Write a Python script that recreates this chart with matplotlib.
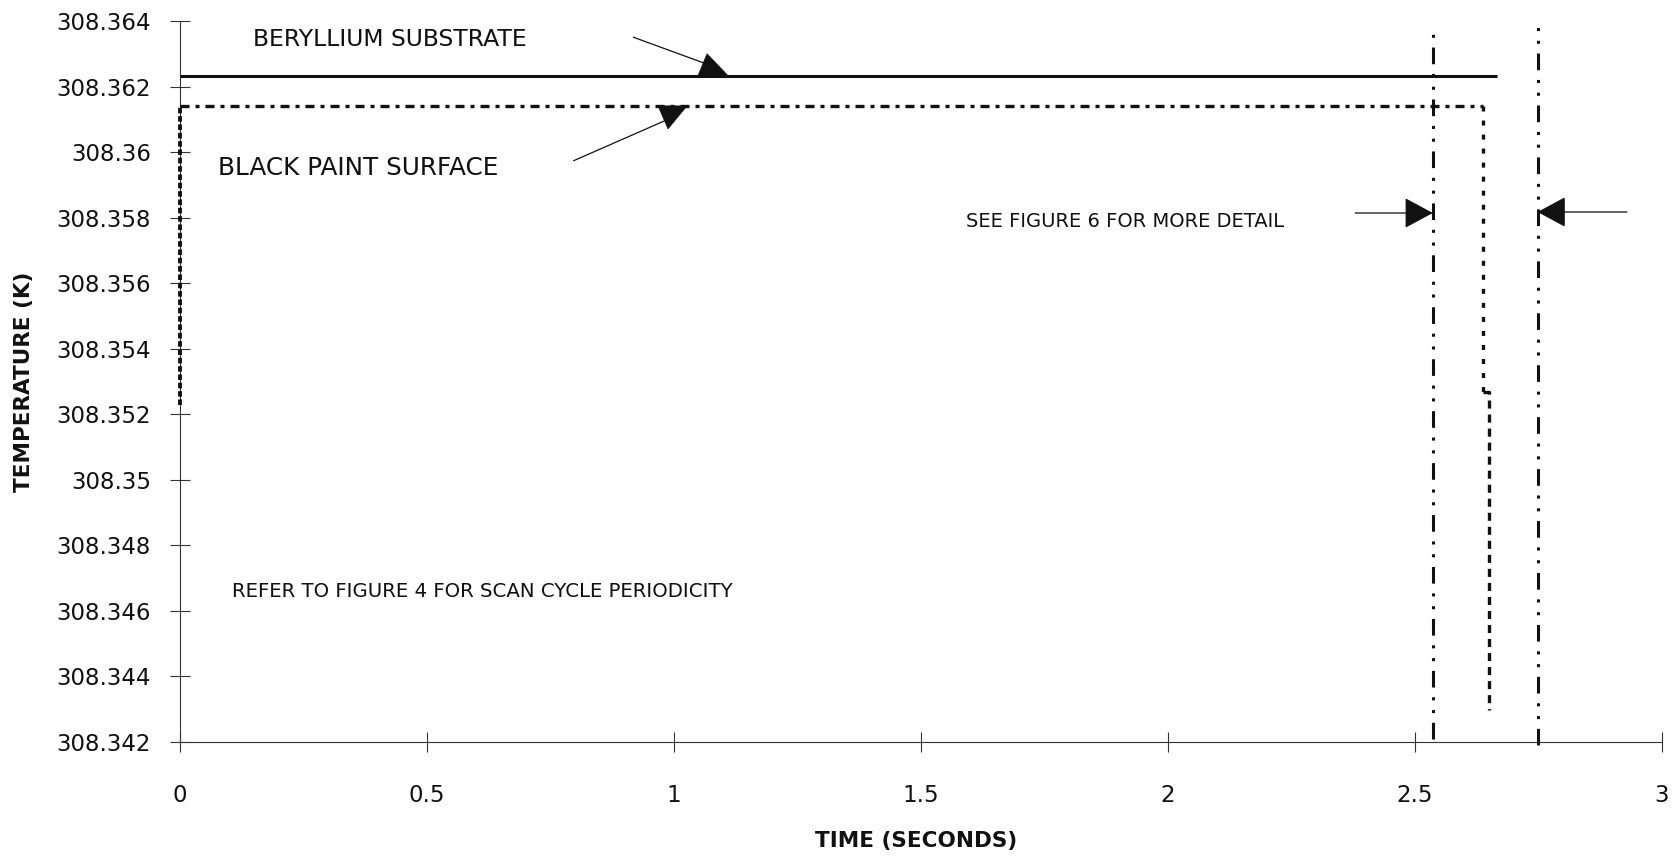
"""Surface vs substrate temperature over one scan, with detail-window markers."""

import matplotlib.pyplot as plt
from matplotlib.patches import Polygon
from matplotlib.ticker import FuncFormatter
from matplotlib.transforms import ScaledTranslation

plt.rcParams["font.family"] = ["DejaVu Sans"]
plt.rcParams["lines.scale_dashes"] = False

DPI = 100
INK = "#111111"
AXIS = "#333333"

# beryllium substrate: flat over the whole scan
be_time = [0.0, 2.666]
be_temp = [308.36234, 308.36234]

# black paint surface: step up at t=0, plateau, then drop at end of scan
paint_time = [0.0, 0.0, 2.638, 2.638, 2.650, 2.650]
paint_temp = [308.35229, 308.36142, 308.36142, 308.35268, 308.35268, 308.34297]

# edges of the window shown in figure 6
detail_time = [2.536, 2.748]
detail_top = [308.3639, 308.3641]
detail_bottom = [308.3421, 308.3419]

time_ticks = [0, 0.5, 1, 1.5, 2, 2.5, 3]
temp_ticks = [308.342, 308.344, 308.346, 308.348, 308.350, 308.352,
              308.354, 308.356, 308.358, 308.360, 308.362, 308.364]


def _pointer(ax, tail, end, anchor, verts_px):
    """Thin leader line plus a filled triangle placed in pixel offsets."""
    ax.plot([tail[0], end[0]], [tail[1], end[1]], color=INK, lw=0.9,
            solid_capstyle="butt", clip_on=False, zorder=4)
    trans = ax.figure.dpi_scale_trans + ScaledTranslation(anchor[0], anchor[1], ax.transData)
    tri = Polygon([(x / DPI, y / DPI) for x, y in verts_px], closed=True,
                  transform=trans, facecolor=INK, edgecolor=INK, lw=0.5,
                  clip_on=False, zorder=5)
    ax.add_patch(tri)


def _side_arrow(ax, tail, tip):
    ax.annotate("", xy=tip, xytext=tail,
                arrowprops=dict(arrowstyle="-|>,head_length=1.3,head_width=0.7",
                                mutation_scale=14, lw=0.9, color=INK,
                                shrinkA=0, shrinkB=0),
                annotation_clip=False, zorder=5)


fig = plt.figure(figsize=(16.79, 8.58), dpi=DPI)
ax = fig.add_axes([0.1072, 0.1352, 0.8827, 0.8399])

ax.set_xlim(0, 3)
ax.set_ylim(308.342, 308.364)

# substrate
ax.plot(be_time, be_temp, color=INK, lw=2.2, solid_capstyle="butt", zorder=3)

# paint surface, each leg with its own dash pattern
ax.plot(paint_time[0:2], paint_temp[0:2], color=INK, lw=2.8,
        linestyle=(0, (4.0, 2.0)), clip_on=False, zorder=3)
ax.plot(paint_time[1:3], paint_temp[1:3], color=INK, lw=2.4,
        linestyle=(0, (6.5, 4.3, 2.9, 4.3)), zorder=3)
ax.plot(paint_time[2:4], paint_temp[2:4], color=INK, lw=2.4,
        linestyle=(0, (3.6, 6.5)), zorder=3)
ax.plot(paint_time[3:6], paint_temp[3:6], color=INK, lw=2.4,
        linestyle=(0, (5.8, 4.3)), zorder=3)

# detail window edges
ax.vlines(detail_time, detail_bottom, detail_top, colors=INK, lw=2.2,
          linestyles=[(0, (12, 7, 2.2, 7, 2.2, 7))], clip_on=False, zorder=3)

# annotations
ax.text(0.148, 308.36344, "BERYLLIUM SUBSTRATE", fontsize=16.9, color=INK,
        ha="left", va="center")
_pointer(ax, (0.917, 308.36352), (1.062, 308.36272), (1.079, 308.36234),
         [(-15, 0), (15, 0), (-6, 22)])

ax.text(0.077, 308.35952, "BLACK PAINT SURFACE", fontsize=17.8, color=INK,
        ha="left", va="center")
_pointer(ax, (0.796, 308.35974), (0.985, 308.36099), (0.996, 308.36142),
         [(-14, 0), (15, 0), (-4, -23)])

ax.text(1.591, 308.35788, "SEE FIGURE 6 FOR MORE DETAIL", fontsize=14, color=INK,
        ha="left", va="center")
_side_arrow(ax, (2.379, 308.35815), (detail_time[0], 308.35815))
_side_arrow(ax, (2.929, 308.35818), (detail_time[1], 308.35818))

ax.text(0.106, 308.34658, "REFER TO FIGURE 4 FOR SCAN CYCLE PERIODICITY",
        fontsize=14.2, color=INK, ha="left", va="center")

# axes styling
for side in ("top", "right"):
    ax.spines[side].set_visible(False)
for side in ("left", "bottom"):
    ax.spines[side].set_color(AXIS)
    ax.spines[side].set_linewidth(0.8)

ax.set_xticks(time_ticks)
ax.set_yticks(temp_ticks)
fmt = FuncFormatter(lambda v, pos: f"{v:g}")
ax.xaxis.set_major_formatter(fmt)
ax.yaxis.set_major_formatter(fmt)
ax.tick_params(direction="inout", length=14, width=0.8, color=AXIS,
               labelsize=16.5, labelcolor=INK)
ax.tick_params(axis="y", pad=14)
ax.tick_params(axis="x", pad=23)

ax.set_xlabel("TIME (SECONDS)", fontsize=15.5, fontweight="bold", color=INK, va="center")
ax.xaxis.set_label_coords(0.497, -0.137)
ax.set_ylabel("TEMPERATURE (K)", fontsize=15.5, fontweight="bold", color=INK, va="center")
ax.yaxis.set_label_coords(-0.105, 0.5)

fig.savefig("out.png", dpi=DPI, facecolor="white")
